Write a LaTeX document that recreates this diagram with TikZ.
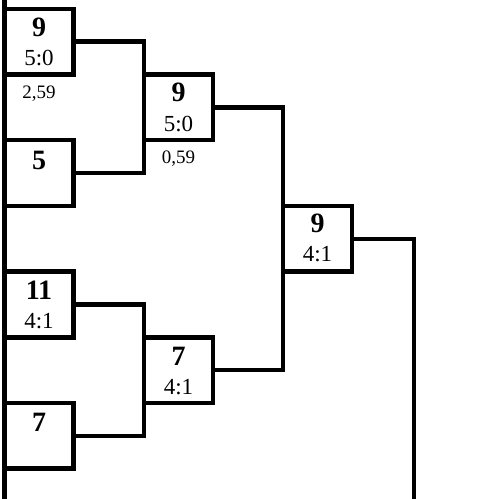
\documentclass[tikz,border=0pt]{standalone}
\usepackage{fontspec}
\setmainfont{Liberation Serif}
\begin{document}
\begin{tikzpicture}[x=1pt,y=-1pt,
  box/.style={draw, line width=4.5pt, minimum width=69pt, minimum height=65.7pt, inner sep=0pt, outer sep=0pt, anchor=north west},
  wire/.style={line width=4.5pt},
  big/.style={font=\fontsize{28}{30}\selectfont\bfseries, inner sep=0pt, text depth=0pt},
  score/.style={font=\fontsize{23}{25}\selectfont, inner sep=0pt, text depth=0pt},
  small/.style={font=\fontsize{19}{21}\selectfont, inner sep=0pt, text depth=0pt}]
\useasboundingbox (0,0) rectangle (481,499);
% boxes
\node[box] (b1) at (4.5,8.8) {};
\node[box] (b2) at (4.5,140.2) {};
\node[box] (b4) at (4.5,271.6) {};
\node[box] (b7) at (4.5,403) {};
\node[box] (b3) at (144,74.5) {};
\node[box] (b6) at (144,337.3) {};
\node[box] (b5) at (283,205.9) {};
% texts
\node[big] (t1) at ([yshift=-18pt]b1.north) {9};
\node[score] (s1) at ([yshift=-49.5pt]b1.north) {5:0};
\node[small] (m1) at ([yshift=-18pt]b1.south) {2,59};
\node[big] (t2) at ([yshift=-20pt]b2.north) {5};
\node[big] (t3) at ([yshift=-18pt]b3.north) {9};
\node[score] (s3) at ([yshift=-49.5pt]b3.north) {5:0};
\node[small] (m3) at ([yshift=-17pt]b3.south) {0,59};
\node[big] (t4) at ([yshift=-18.5pt]b4.north) {11};
\node[score] (s4) at ([yshift=-49.5pt]b4.north) {4:1};
\node[big] (t7) at ([yshift=-19.5pt]b7.north) {7};
\node[big] (t6) at ([yshift=-19pt]b6.north) {7};
\node[score] (s6) at ([yshift=-50pt]b6.north) {4:1};
\node[big] (t5) at ([yshift=-17pt]b5.north) {9};
\node[score] (s5) at ([yshift=-48.5pt]b5.north) {4:1};
% connectors
\draw[wire] (b1.east) -| (b3.north west);
\draw[wire] (b2.east) -| (b3.south west);
\draw[wire] (b4.east) -| (b6.north west);
\draw[wire] (b7.east) -| (b6.south west);
\draw[wire] (b3.east) -| (b5.north west);
\draw[wire] (b6.east) -| (b5.south west);
\coordinate (fin) at (414,499);
\draw[wire] (b5.east) -| (fin);
\coordinate (lt) at (4.5,0);
\coordinate (lb) at (4.5,499);
\draw[wire] (lt) -- (lb);
\end{tikzpicture}
\end{document}
